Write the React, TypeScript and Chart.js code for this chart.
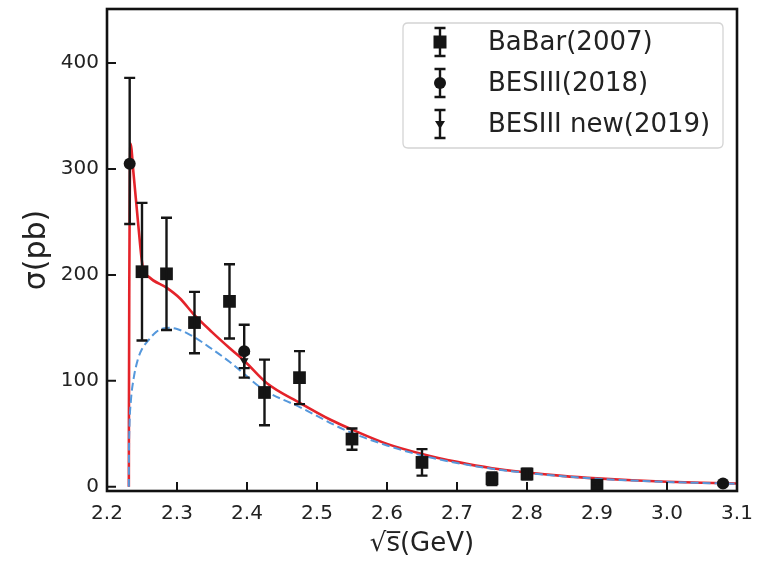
import React, { useEffect, useRef } from "react";
import { Chart, registerables } from "chart.js";

Chart.register(...registerables);

// ---------- data ----------
const babarX = [2.25, 2.285, 2.325, 2.375, 2.425, 2.475, 2.55, 2.65, 2.75, 2.8, 2.9];
const babarY = [203, 201, 155, 175, 89, 103, 45, 23, 7.5, 12, 1.5];
const babarErr = [65, 53, 29, 35, 31, 25, 10, 12.5, 6, 5, 1.5];

const bes18X = [2.2324, 2.396, 3.08];
const bes18Y = [305, 128, 3];
const bes18ErrLo = [57, 25, 1.5];
const bes18ErrHi = [81, 25, 1.5];

const bes19X = [2.396];
const bes19Y = [119];
const bes19Err = [7];

const fitX = [2.2312, 2.2313, 2.2318, 2.2335, 2.238, 2.2447, 2.251, 2.26, 2.285, 2.304, 2.325, 2.35, 2.375, 2.396, 2.428, 2.476, 2.52, 2.55, 2.6, 2.65, 2.7, 2.75, 2.8, 2.85, 2.9, 2.95, 3.0, 3.05, 3.1];
const fitY = [0, 60, 180, 324, 295, 247, 208, 198, 188, 178, 162, 146, 131, 119, 98, 79, 63, 54, 40.5, 31, 23.5, 17.5, 13.5, 10.3, 7.9, 6.1, 4.8, 3.8, 3.1];

const bornX = [2.2312, 2.2314, 2.232, 2.234, 2.238, 2.244, 2.25, 2.26, 2.27, 2.28, 2.29, 2.3, 2.32, 2.35, 2.375, 2.395, 2.423, 2.476, 2.542, 2.6, 2.65, 2.7, 2.75, 2.8, 2.85, 2.9, 2.95, 3.0, 3.05, 3.1];
const bornY = [0, 30, 55, 80, 102, 120, 130, 139, 146, 149.5, 150, 149, 143, 130, 118, 107, 92, 75, 53, 39, 29.5, 22.5, 17, 13, 10, 7.6, 5.9, 4.6, 3.6, 2.9];

const xTicks = [2.2, 2.3, 2.4, 2.5, 2.6, 2.7, 2.8, 2.9, 3.0, 3.1];
const yTicks = [0, 100, 200, 300, 400];
const legendLabels = ["BaBar(2007)", "BESIII(2018)", "BESIII new(2019)"];

const FONT = "'DejaVu Sans', sans-serif";
const INK = "#151515";

const toPts = (xs: number[], ys: number[]) => xs.map((x, i) => ({ x, y: ys[i] }));

const errorBarPlugin = {
  id: "errorBars",
  afterDatasetsDraw(chart: any) {
    const { ctx, scales } = chart;
    const xs = scales.x;
    const ys = scales.y;
    chart.data.datasets.forEach((ds: any) => {
      if (!ds.errLo) return;
      ctx.save();
      ctx.strokeStyle = INK;
      ctx.lineWidth = 2.4;
      ds.data.forEach((p: any, i: number) => {
        const px = xs.getPixelForValue(p.x);
        const top = ys.getPixelForValue(p.y + ds.errHi[i]);
        const bot = ys.getPixelForValue(p.y - ds.errLo[i]);
        ctx.beginPath();
        ctx.moveTo(px, top);
        ctx.lineTo(px, bot);
        ctx.moveTo(px - 5.5, top);
        ctx.lineTo(px + 5.5, top);
        ctx.moveTo(px - 5.5, bot);
        ctx.lineTo(px + 5.5, bot);
        ctx.stroke();
      });
      ctx.restore();
    });
  },
};

const framePlugin = {
  id: "frameLegend",
  afterDraw(chart: any) {
    const { ctx, chartArea: a, scales } = chart;
    ctx.save();
    // inward ticks
    ctx.strokeStyle = INK;
    ctx.lineWidth = 2;
    ctx.beginPath();
    xTicks.forEach((v) => {
      const px = scales.x.getPixelForValue(v);
      ctx.moveTo(px, a.bottom);
      ctx.lineTo(px, a.bottom - 9);
    });
    yTicks.forEach((v) => {
      const py = scales.y.getPixelForValue(v);
      ctx.moveTo(a.left, py);
      ctx.lineTo(a.left + 9, py);
    });
    ctx.stroke();
    // frame
    ctx.lineWidth = 2.6;
    ctx.strokeStyle = "#111";
    ctx.strokeRect(a.left, a.top, a.right - a.left, a.bottom - a.top);

    // legend
    const bx = 403, by = 23, bw = 320, bh = 125, r = 5;
    ctx.beginPath();
    ctx.moveTo(bx + r, by);
    ctx.lineTo(bx + bw - r, by);
    ctx.quadraticCurveTo(bx + bw, by, bx + bw, by + r);
    ctx.lineTo(bx + bw, by + bh - r);
    ctx.quadraticCurveTo(bx + bw, by + bh, bx + bw - r, by + bh);
    ctx.lineTo(bx + r, by + bh);
    ctx.quadraticCurveTo(bx, by + bh, bx, by + bh - r);
    ctx.lineTo(bx, by + r);
    ctx.quadraticCurveTo(bx, by, bx + r, by);
    ctx.closePath();
    ctx.fillStyle = "rgba(255,255,255,0.85)";
    ctx.fill();
    ctx.strokeStyle = "#d4d4d4";
    ctx.lineWidth = 1.3;
    ctx.stroke();

    const rows = [42, 83, 124];
    const mx = 440;
    rows.forEach((ry, i) => {
      ctx.strokeStyle = INK;
      ctx.fillStyle = INK;
      ctx.lineWidth = 2.4;
      ctx.beginPath();
      ctx.moveTo(mx, ry - 14);
      ctx.lineTo(mx, ry + 14);
      ctx.moveTo(mx - 5.5, ry - 14);
      ctx.lineTo(mx + 5.5, ry - 14);
      ctx.moveTo(mx - 5.5, ry + 14);
      ctx.lineTo(mx + 5.5, ry + 14);
      ctx.stroke();
      ctx.beginPath();
      if (i === 0) {
        ctx.rect(mx - 6.5, ry - 6.5, 13, 13);
      } else if (i === 1) {
        ctx.arc(mx, ry, 6, 0, Math.PI * 2);
      } else {
        ctx.moveTo(mx - 5, ry - 3);
        ctx.lineTo(mx + 5, ry - 3);
        ctx.lineTo(mx, ry + 5);
        ctx.closePath();
      }
      ctx.fill();
      ctx.font = `26px ${FONT}`;
      ctx.textBaseline = "middle";
      ctx.textAlign = "left";
      ctx.fillStyle = "#222";
      ctx.fillText(legendLabels[i], 488, ry + 1);
    });
    ctx.restore();
  },
};

export default function App() {
  const ref = useRef<HTMLCanvasElement | null>(null);
  useEffect(() => {
    document.body.style.margin = "0";
    Chart.defaults.font.family = FONT;
    const chart = new Chart(ref.current as HTMLCanvasElement, {
      type: "scatter",
      data: {
        datasets: [
          {
            label: legendLabels[0],
            data: toPts(babarX, babarY),
            pointStyle: "rect",
            pointRadius: 9,
            backgroundColor: INK,
            borderColor: INK,
            borderWidth: 0,
            order: 0,
            errLo: babarErr,
            errHi: babarErr,
          } as any,
          {
            label: legendLabels[1],
            data: toPts(bes18X, bes18Y),
            pointStyle: "circle",
            pointRadius: 6,
            backgroundColor: INK,
            borderColor: INK,
            borderWidth: 0,
            order: 0,
            errLo: bes18ErrLo,
            errHi: bes18ErrHi,
          } as any,
          {
            label: legendLabels[2],
            data: toPts(bes19X, bes19Y),
            pointStyle: "triangle",
            rotation: 180,
            pointRadius: 5,
            backgroundColor: INK,
            borderColor: INK,
            borderWidth: 0,
            order: 0,
            errLo: bes19Err,
            errHi: bes19Err,
          } as any,
          {
            label: "fit",
            data: toPts(fitX, fitY),
            showLine: true,
            pointRadius: 0,
            borderColor: "#e4232a",
            borderWidth: 2.6,
            cubicInterpolationMode: "monotone",
            fill: false,
            order: 3,
          } as any,
          {
            label: "born",
            data: toPts(bornX, bornY),
            showLine: true,
            pointRadius: 0,
            borderColor: "#5598dc",
            borderWidth: 2,
            borderDash: [8, 4],
            cubicInterpolationMode: "monotone",
            fill: false,
            order: 2,
          } as any,
        ],
      },
      options: {
        responsive: false,
        animation: false,
        devicePixelRatio: 1,
        layout: { padding: { left: 0, right: 22, top: 7, bottom: 0 } },
        plugins: { legend: { display: false }, tooltip: { enabled: false } },
        scales: {
          x: {
            type: "linear",
            min: 2.2,
            max: 3.1,
            afterBuildTicks: (s: any) => {
              s.ticks = xTicks.map((v) => ({ value: v }));
            },
            afterFit: (s: any) => {
              s.height = 70;
              s.paddingLeft = 0;
              s.paddingRight = 0;
            },
            grid: { display: false, drawTicks: false },
            border: { display: false },
            ticks: {
              padding: 11,
              autoSkip: false,
              maxRotation: 0,
              color: "#222",
              font: { family: FONT, size: 20 },
              callback: (v: any) => Number(v).toFixed(1),
            },
            title: {
              display: true,
              text: "\u221As\u0305(GeV)",
              color: "#222",
              font: { family: FONT, size: 26 },
              padding: { top: 0, bottom: 1 },
            },
          },
          y: {
            type: "linear",
            min: -4,
            max: 451,
            afterBuildTicks: (s: any) => {
              s.ticks = yTicks.map((v) => ({ value: v }));
            },
            afterFit: (s: any) => {
              s.width = 107;
              s.paddingTop = 0;
              s.paddingBottom = 0;
            },
            grid: { display: false, drawTicks: false },
            border: { display: false },
            ticks: {
              padding: 8,
              color: "#222",
              font: { family: FONT, size: 20 },
            },
            title: {
              display: true,
              text: "\u03C3(pb)",
              color: "#222",
              font: { family: FONT, size: 30 },
              padding: { top: 19, bottom: 0 },
            },
          },
        },
      } as any,
      plugins: [errorBarPlugin, framePlugin],
    });
    return () => chart.destroy();
  }, []);
  return <canvas ref={ref} width={759} height={561} style={{ display: "block" }} />;
}
